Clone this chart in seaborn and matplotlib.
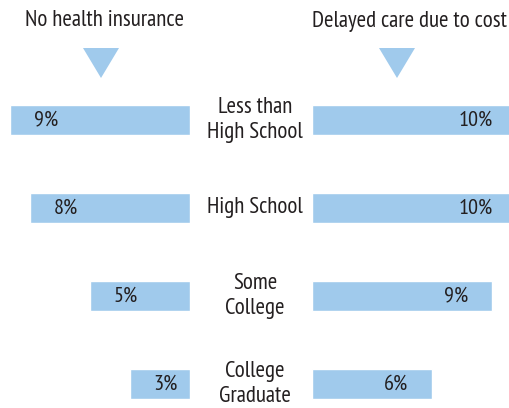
import matplotlib
matplotlib.use("Agg")
import matplotlib.pyplot as plt
from matplotlib.patches import Polygon
import seaborn as sns
import pandas as pd

sns.set_theme(style="white")
plt.rcParams["font.family"] = ["PT Sans Narrow", "Roboto Condensed", "DejaVu Sans"]

BLUE = "#A0CAEC"
TEXT = "#231F20"

groups = ["Less than\nHigh School", "High School", "Some\nCollege", "College\nGraduate"]
no_insurance = [9, 8, 5, 3]
delayed_care = [10, 10, 9, 6]
headers = ["No health insurance", "Delayed care due to cost"]

W, H = 510, 408
fig = plt.figure(figsize=(W / 100, H / 100), dpi=100)

# axes placed in pixel terms: 20 px per percentage point, 88 px per row
y_top, y_bot = 76, 428
ax_l = fig.add_axes([0 / W, (H - y_bot) / H, 190 / W, (y_bot - y_top) / H])
ax_r = fig.add_axes([312 / W, (H - y_bot) / H, 200 / W, (y_bot - y_top) / H])

df = pd.DataFrame({"group": groups, "left": no_insurance, "right": delayed_care})

for ax, col, lim in [(ax_l, "left", (9.5, 0)), (ax_r, "right", (0, 10))]:
    sns.barplot(data=df, x=col, y="group", orient="h", color=BLUE,
                saturation=1, width=0.35, ax=ax)
    ax.set_xlim(*lim)
    ax.set_ylim(3.5, -0.5)
    ax.axis("off")
    for i, v in enumerate(df[col]):
        ax.text(v - 1.8, i, f"{v}%", ha="center", va="center",
                fontsize=16, color=TEXT)

# category labels in the middle gap
for i, g in enumerate(groups):
    y = y_top + 88 * (i + 0.5)
    fig.text(255 / W, 1 - y / H, g, ha="center", va="center",
             fontsize=16.5, color=TEXT, linespacing=1.25)

# headers with downward triangles
for cx, tx, txt in [(101, 105, headers[0]), (397, 410, headers[1])]:
    fig.text(tx / W, 1 - 21 / H, txt, ha="center", va="center",
             fontsize=16.5, color=TEXT)
    tri = Polygon([((cx - 18) / W, 1 - 48 / H), ((cx + 18) / W, 1 - 48 / H),
                   (cx / W, 1 - 78 / H)], closed=True, transform=fig.transFigure,
                  facecolor=BLUE, edgecolor="none")
    fig.add_artist(tri)

fig.savefig("out.png", dpi=100)
